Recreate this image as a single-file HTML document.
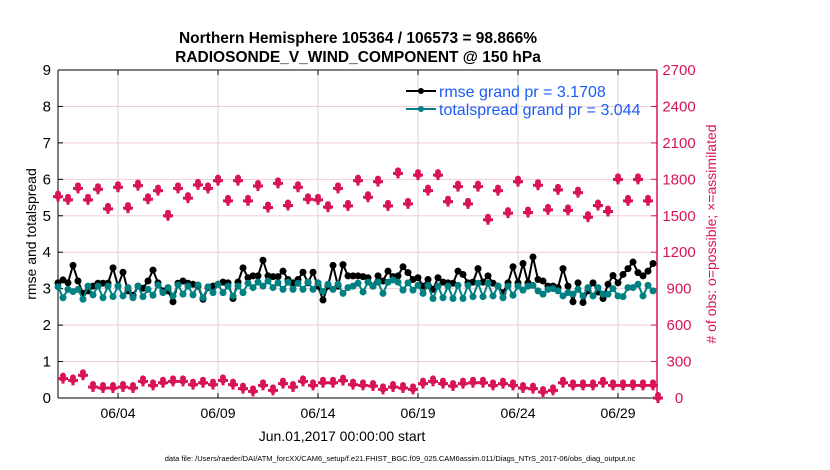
<!DOCTYPE html>
<html><head><meta charset="utf-8"><style>
html,body{margin:0;padding:0;background:#fff;}
svg{display:block;font-family:"Liberation Sans",sans-serif;}
</style></head><body>
<svg id="chart" width="830" height="470" viewBox="0 0 830 470">
<text x="358" y="43" text-anchor="middle" font-size="15.5" font-weight="bold">Northern Hemisphere 105364 / 106573 = 98.866%</text>
<text x="358" y="62" text-anchor="middle" font-size="15.5" font-weight="bold">RADIOSONDE_V_WIND_COMPONENT @ 150 hPa</text>
<g id="grid"></g>
<g id="axes"></g>
<g id="series"></g>
<text transform="translate(36,234) rotate(-90)" text-anchor="middle" font-size="14">rmse and totalspread</text>
<text transform="translate(716,234) rotate(-90)" text-anchor="middle" font-size="14" fill="#d81456"># of obs: o=possible; ×=assimilated</text>
<text x="342" y="441" text-anchor="middle" font-size="14">Jun.01,2017 00:00:00 start</text>
<text x="400" y="461" text-anchor="middle" font-size="7.5">data file: /Users/raeder/DAI/ATM_forcXX/CAM6_setup/f.e21.FHIST_BGC.f09_025.CAM6assim.011/Diags_NTrS_2017-06/obs_diag_output.nc</text>
<g>
<line x1="406" y1="91" x2="436" y2="91" stroke="#000" stroke-width="2"/>
<circle cx="421" cy="91" r="3" fill="#000"/>
<text x="439" y="97" font-size="16" fill="#1a5cf5">rmse grand pr = 3.1708</text>
<line x1="406" y1="109" x2="436" y2="109" stroke="#008080" stroke-width="2"/>
<circle cx="421" cy="109" r="3" fill="#008080"/>
<text x="439" y="115" font-size="16" fill="#1a5cf5">totalspread grand pr = 3.044</text>
</g>
</svg>
<script>
const leftTicks=[0,1,2,3,4,5,6,7,8,9];
const rightTicks=[0,300,600,900,1200,1500,1800,2100,2400,2700];
const xTickDays=[3,8,13,18,23,28];
const xTickLabels=["06/04","06/09","06/14","06/19","06/24","06/29"];
const rmse=[3.16,3.24,3.16,3.64,3.21,2.87,2.94,3.07,3.15,3.15,3.15,3.57,3.07,3.45,2.94,2.82,3.07,3.01,3.21,3.51,3.16,2.94,2.94,2.64,3.15,3.21,3.15,3.12,3.07,2.71,3.03,3.07,3.12,3.18,3.16,2.73,3.18,3.57,3.3,3.35,3.35,3.78,3.35,3.33,3.33,3.48,3.25,3.16,3.25,3.45,3.16,3.45,3.07,2.69,3.07,3.64,3.07,3.66,3.35,3.35,3.35,
3.33,3.3,3.07,3.35,3.21,3.48,3.33,3.35,3.6,3.44,3.25,3.3,3.07,3.25,2.98,3.3,3.18,3.16,3.15,3.48,3.39,3.16,3.18,3.55,3.18,3.35,3.15,3.07,2.89,3.16,3.6,3.16,3.69,3.16,3.87,3.25,3.21,3.07,3.07,3.03,3.55,3.07,2.64,3.16,2.62,2.94,3.16,2.91,2.73,3.12,3.36,3.16,3.39,3.55,3.73,3.44,3.35,3.48,3.69];
const spread=[3.05,2.75,2.98,2.92,2.98,2.71,3.07,2.83,3.07,2.75,3.07,2.78,3.07,2.8,3.03,2.75,3.07,2.78,2.98,2.82,3.1,2.89,3.03,2.8,3.1,2.85,3.07,2.83,3.1,2.75,3.05,2.89,3.12,2.89,3.07,2.8,3.07,2.89,3.15,3.03,3.18,3.07,3.21,3.03,3.16,2.98,3.18,2.98,3.15,2.98,3.18,2.98,3.16,2.92,3.12,2.98,3.12,2.87,3.03,3.07,3.15,
2.91,3.18,3.07,3.18,2.87,3.18,3.24,3.18,2.96,3.16,2.96,3.09,2.87,3.09,2.73,3.07,2.75,3.07,2.73,3.09,2.73,3.09,2.78,3.15,2.78,3.15,2.8,3.07,2.75,3.07,2.82,3.07,2.96,3.07,3.09,2.94,2.85,2.98,3.0,2.94,2.8,2.89,2.85,2.98,2.8,3.03,2.8,3.03,2.85,2.85,3.0,2.8,2.78,3.03,3.03,3.12,2.8,3.09,2.94];
const obsMain=[1658,1631,1726,1631,1718,1557,1735,1563,1748,1636,1707,1500,1726,1645,1754,1726,1789,1623,1789,1623,1745,1568,1767,1585,1735,1636,1631,1571,1726,1582,1789,1653,1781,1582,1849,1598,1835,1707,1835,1617,1740,1598,1740,1467,1707,1522,1781,1527,1751,1549,1713,1544,1691,1489,1585,1535,1800,1623,1800,1623,0];
const obsMinor=[159,145,187,91,82,82,91,82,137,104,126,137,137,110,126,110,145,110,77,55,104,63,118,91,137,104,126,126,143,110,104,99,71,91,82,71,118,137,118,99,118,126,126,104,118,104,82,77,49,63,126,104,104,104,126,104,104,104,104,104];
const X0=58,DX=20,Y0=398,YS=328/9,RS=328/2700;
const xDay=d=>X0+d*DX;
const xBin=k=>xDay(k*0.25);
const yL=v=>Y0-v*YS;
const yR=v=>Y0-v*RS;
const NS="http://www.w3.org/2000/svg";
function mk(tag,attrs,parent){const e=document.createElementNS(NS,tag);for(const k in attrs)e.setAttribute(k,attrs[k]);parent.appendChild(e);return e;}
const grid=document.getElementById('grid'),axes=document.getElementById('axes'),series=document.getElementById('series');
const RED="#d81456";
xTickDays.forEach((d,i)=>{
 const l=mk('line',{x1:xDay(d),x2:xDay(d),y1:70,y2:Y0,stroke:'#d6d6d6','stroke-width':1},grid);
 
 
 const t=mk('text',{x:xDay(d),y:418,'text-anchor':'middle','font-size':14},axes);
 t.textContent=xTickLabels[i];
 
 
 const tk=mk('line',{x1:xDay(d),x2:xDay(d),y1:Y0,y2:Y0-5,stroke:'#000'},axes);
 
 
 const tt=mk('line',{x1:xDay(d),x2:xDay(d),y1:70,y2:75,stroke:'#000'},axes);
 
 
});
leftTicks.forEach(v=>{
 if(v>0&&v<9){const g=mk('line',{x1:X0,x2:657,y1:yL(v),y2:yL(v),stroke:'#f3cddb','stroke-width':1},grid);
 
 }
 const t=mk('text',{x:51,y:yL(v)+5,'text-anchor':'end','font-size':15},axes);
 t.textContent=v;
 
 
 const tk=mk('line',{x1:X0,x2:X0+5,y1:yL(v),y2:yL(v),stroke:'#000'},axes);
 
 
});
rightTicks.forEach(v=>{
 const t=mk('text',{x:679,y:yR(v)+5,'text-anchor':'middle','font-size':15,fill:RED},axes);
 t.textContent=v;
 
 
 const tk=mk('line',{x1:651,x2:657,y1:yR(v),y2:yR(v),stroke:RED},axes);
 
 
});
const ta=mk('line',{x1:X0,x2:657,y1:70,y2:70,stroke:'#000'},axes);


const la=mk('line',{x1:X0,x2:X0,y1:70,y2:Y0,stroke:'#000'},axes);


const ba=mk('line',{x1:X0,x2:657,y1:Y0,y2:Y0,stroke:'#000'},axes);


const ra=mk('line',{x1:657,x2:657,y1:70,y2:Y0,stroke:RED,'stroke-width':1.5},axes);


function line(vals,color,name){
 const pts=vals.map((v,k)=>xBin(k)+','+yL(v)).join(' ');
 const p=mk('polyline',{points:pts,fill:'none',stroke:color,'stroke-width':2},series);
 
 
 vals.forEach((v,k)=>{
  const c=mk('circle',{cx:xBin(k),cy:yL(v),r:3.5,fill:color},series);
  
  
 });
}
function obsMark(x,y){
 const g=mk('g',{},series);
 
 
 mk('circle',{cx:x,cy:y-3,r:3,fill:RED},g);
 mk('path',{d:`M${x-5} ${y}H${x+5}M${x} ${y-5}V${y+5}`,stroke:RED,'stroke-width':3},g);
 mk('circle',{cx:x,cy:y,r:3.2,fill:RED},g);
}
obsMain.forEach((v,i)=>obsMark(xBin(2*i),yR(v)));
obsMinor.forEach((v,i)=>obsMark(xBin(2*i+1),yR(v)));
line(rmse,'#000','rmse');
line(spread,'#008080','totalspread');
</script>
</body></html>
